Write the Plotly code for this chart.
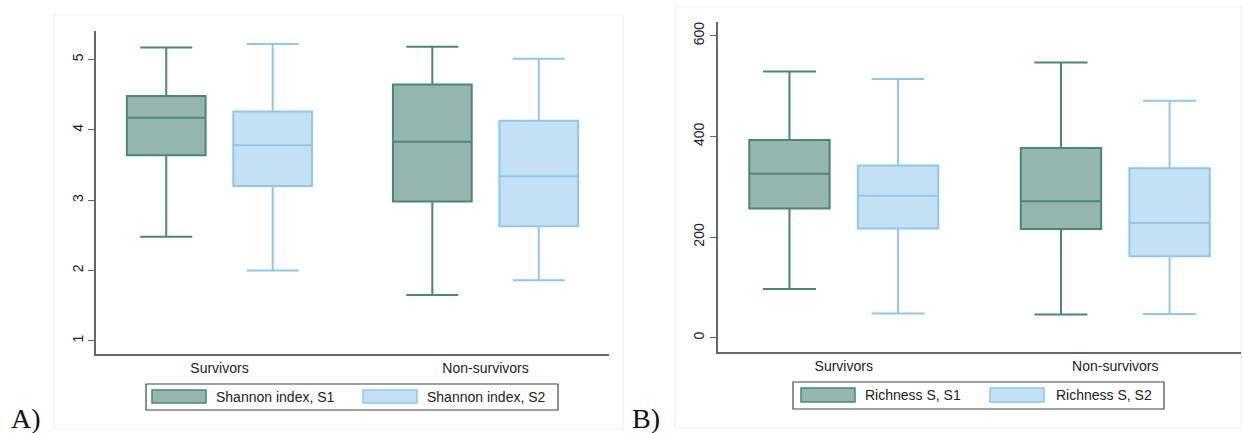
import plotly.graph_objects as go

W, H = 1242, 433

# ---- data ----
groups = ["Survivors", "Non-survivors"]

shannon_s1_low = [2.48, 1.65]
shannon_s1_q1 = [3.64, 2.98]
shannon_s1_med = [4.17, 3.83]
shannon_s1_q3 = [4.48, 4.645]
shannon_s1_high = [5.17, 5.18]

shannon_s2_low = [2.00, 1.86]
shannon_s2_q1 = [3.20, 2.63]
shannon_s2_med = [3.78, 3.34]
shannon_s2_q3 = [4.26, 4.13]
shannon_s2_high = [5.22, 5.01]

rich_s1_low = [97, 46]
rich_s1_q1 = [257, 216]
rich_s1_med = [326, 271]
rich_s1_q3 = [393, 377]
rich_s1_high = [529, 547]

rich_s2_low = [48, 47]
rich_s2_q1 = [217, 162]
rich_s2_med = [282, 228]
rich_s2_q3 = [342, 337]
rich_s2_high = [514, 471]

shannon_ticks = [1, 2, 3, 4, 5]
rich_ticks = [0, 200, 400, 600]

legend_a = ["Shannon index, S1", "Shannon index, S2"]
legend_b = ["Richness S, S1", "Richness S, S2"]

# ---- styles ----
S1_FILL, S1_LINE = "#95b6af", "#4d8677"
S2_FILL, S2_LINE = "#c3e0f4", "#90c7ea"
AXIS = "#666666"
FONT = "Liberation Sans, Arial, Helvetica, sans-serif"


def px(x):
    return x / W


def py(y):
    return 1 - y / H


fig = go.Figure()


def add_box(xaxis, yaxis, name, low, q1, med, q3, high, fill, line, og):
    fig.add_trace(go.Box(
        x=groups, q1=q1, median=med, q3=q3, lowerfence=low, upperfence=high,
        name=name, fillcolor=fill, line=dict(color=line, width=2),
        whiskerwidth=0.66, offsetgroup=og, xaxis=xaxis, yaxis=yaxis,
        showlegend=False, boxpoints=False, hoverinfo="y",
    ))


add_box("x", "y", legend_a[0], shannon_s1_low, shannon_s1_q1, shannon_s1_med,
        shannon_s1_q3, shannon_s1_high, S1_FILL, S1_LINE, "a1")
add_box("x", "y", legend_a[1], shannon_s2_low, shannon_s2_q1, shannon_s2_med,
        shannon_s2_q3, shannon_s2_high, S2_FILL, S2_LINE, "a2")
add_box("x2", "y2", legend_b[0], rich_s1_low, rich_s1_q1, rich_s1_med,
        rich_s1_q3, rich_s1_high, S1_FILL, S1_LINE, "b1")
add_box("x2", "y2", legend_b[1], rich_s2_low, rich_s2_q1, rich_s2_med,
        rich_s2_q3, rich_s2_high, S2_FILL, S2_LINE, "b2")

xcommon = dict(type="category", showline=True, linecolor=AXIS, linewidth=1.5,
               ticks="", showgrid=False, zeroline=False,
               tickfont=dict(family=FONT, size=14, color="#222222"))
ycommon = dict(showline=True, linecolor=AXIS, linewidth=1.5, ticks="outside",
               ticklen=6, tickcolor=AXIS, tickwidth=1.2, showgrid=False,
               zeroline=False, tickangle=-90,
               tickfont=dict(family=FONT, size=14, color="#222222"))

fig.update_layout(
    width=W, height=H, margin=dict(l=0, r=0, t=0, b=0),
    paper_bgcolor="white", plot_bgcolor="white",
    boxmode="group", boxgap=0.2, boxgroupgap=0.26,
    xaxis=dict(domain=[px(96), px(609)], range=[-0.464, 1.464], anchor="y", **xcommon),
    yaxis=dict(domain=[py(354.3), py(30.7)], range=[0.807, 5.41], anchor="x",
               tickvals=shannon_ticks, **ycommon),
    xaxis2=dict(domain=[px(717.5), px(1241)], range=[-0.465, 1.463], anchor="y2", **xcommon),
    yaxis2=dict(domain=[py(352), py(21.7)], range=[-28.4, 628], anchor="x2",
                tickvals=rich_ticks, **ycommon),
)

shapes = []
annots = []

# panel frames
for (x0, y0, x1, y1) in [(54, 15, 623, 429), (675, 7, 1241.5, 428)]:
    shapes.append(dict(type="rect", xref="paper", yref="paper",
                       x0=px(x0), x1=px(x1), y0=py(y1), y1=py(y0),
                       line=dict(color="#eceff1", width=1), layer="below"))

# legends
legends = [
    dict(box=(146, 384, 558, 410), keys=[(152, 206), (363, 417)], texts=[214, 425], labels=legend_a, ky=(390, 403)),
    dict(box=(793, 382, 1164, 409), keys=[(801, 855), (990, 1044)], texts=[863, 1054], labels=legend_b, ky=(388, 402)),
]
for lg in legends:
    bx0, by0, bx1, by1 = lg["box"]
    shapes.append(dict(type="rect", xref="paper", yref="paper",
                       x0=px(bx0), x1=px(bx1), y0=py(by1), y1=py(by0),
                       line=dict(color="#444444", width=1.2), fillcolor="white"))
    for (k0, k1), tx, lab, fill, line in zip(lg["keys"], lg["texts"], lg["labels"],
                                             [S1_FILL, S2_FILL], [S1_LINE, S2_LINE]):
        shapes.append(dict(type="rect", xref="paper", yref="paper",
                           x0=px(k0), x1=px(k1), y0=py(lg["ky"][1]), y1=py(lg["ky"][0]),
                           line=dict(color=line, width=1.5), fillcolor=fill))
        annots.append(dict(text=lab, xref="paper", yref="paper", x=px(tx),
                           y=py((lg["ky"][0] + lg["ky"][1]) / 2), xanchor="left",
                           yanchor="middle", showarrow=False,
                           font=dict(family=FONT, size=14, color="#222222")))

# panel letters
for lab, x in [("A)", 9), ("B)", 630)]:
    annots.append(dict(text=lab, xref="paper", yref="paper", x=px(x), y=py(418),
                       xanchor="left", yanchor="middle", showarrow=False,
                       font=dict(family="Liberation Serif, Times New Roman, serif",
                                 size=28, color="#111111")))

fig.update_layout(shapes=shapes, annotations=annots)

fig.write_html("out.html", config={"displayModeBar": False},
               post_script="document.body.style.margin='0px';document.body.style.overflow='hidden';")
